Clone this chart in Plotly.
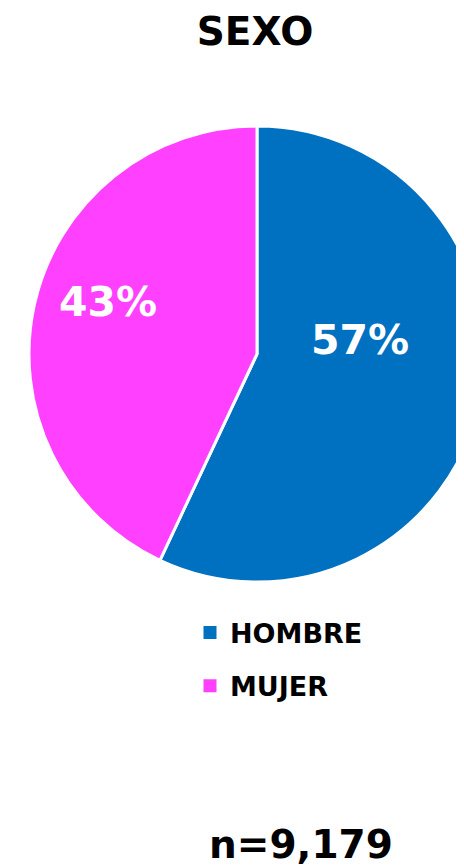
import plotly.graph_objects as go

# ---- data ----
categories = ["HOMBRE", "MUJER"]
values = [57, 43]
colors = ["#0070C0", "#FF40FF"]
title_text = "SEXO"
n_total = 9179

W, H = 500, 860
FONT = "DejaVu Sans"

fig = go.Figure()

fig.add_trace(go.Pie(
    labels=categories,
    values=values,
    sort=False,
    direction="clockwise",
    rotation=0,
    marker=dict(colors=colors, line=dict(color="white", width=3)),
    textinfo="none",
    showlegend=False,
    hoverinfo="label+percent",
    domain=dict(x=[21 / W, 477 / W], y=[1 - 574 / H, 1 - 118 / H]),
))

# legend entries (one per category, so the spacing can be set)
for cat, col in zip(categories, colors):
    fig.add_trace(go.Scatter(
        x=[None], y=[None], mode="markers",
        marker=dict(symbol="square", size=13, color=col),
        name=cat, legendgroup=cat, showlegend=True,
    ))

# percentage labels inside the slices
total = sum(values)
label_pos = [(352, 332), (100, 294)]  # label centres (px from top-left of figure)
annotations = []
for v, (px, py) in zip(values, label_pos):
    annotations.append(dict(
        text=f"{round(v / total * 100)}%", x=px / W, y=1 - py / H,
        xref="paper", yref="paper", showarrow=False,
        xanchor="center", yanchor="middle",
        font=dict(family=FONT, size=41, color="white", weight="bold")))

annotations.append(dict(
    text=f"n={n_total:,}", x=293 / W, y=1 - 836 / H,
    xref="paper", yref="paper", showarrow=False,
    xanchor="center", yanchor="middle",
    font=dict(family=FONT, size=39, color="black", weight="bold")))

fig.update_layout(
    width=W, height=H,
    margin=dict(l=0, r=0, t=0, b=0),
    paper_bgcolor="white", plot_bgcolor="white",
    title=dict(text=title_text, x=247 / W, xanchor="center",
               y=1 - 23 / H, yanchor="middle", yref="container", xref="container",
               font=dict(family=FONT, size=39, color="black", weight="bold")),
    xaxis=dict(visible=False), yaxis=dict(visible=False),
    legend=dict(x=182 / W, xanchor="left", y=1 - 651.5 / H, yanchor="middle",
                font=dict(family=FONT, size=27, color="black", weight="bold"),
                tracegroupgap=15, bgcolor="rgba(0,0,0,0)"),
    annotations=annotations,
)

fig.write_html("out.html")
